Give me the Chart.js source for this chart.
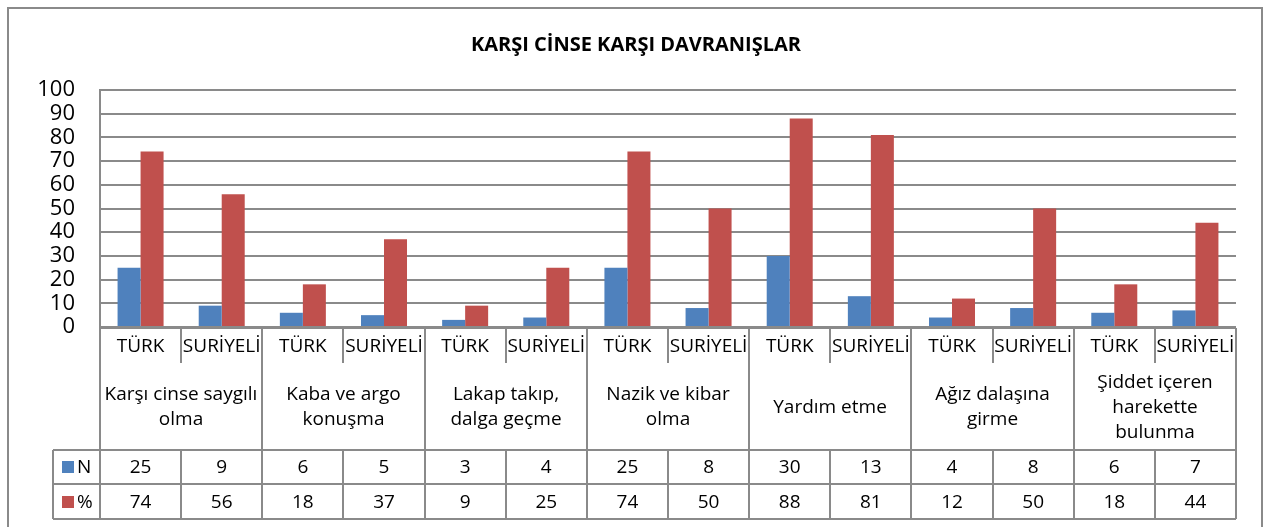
<!DOCTYPE html>
<html lang="tr">
<head>
<meta charset="utf-8">
<title>Karşı cinse karşı davranışlar</title>
<script src="https://cdn.jsdelivr.net/npm/chart.js@4.4.1/dist/chart.umd.min.js"></script>
<style>
  html, body { margin: 0; padding: 0; background: #fff; }
  #wrap { position: relative; width: 1268px; height: 527px; }
</style>
</head>
<body>
<div id="wrap"><canvas id="myChart" width="1268" height="527"></canvas></div>
<script>
// Veriler
const chartTitle = "KARŞI CİNSE KARŞI DAVRANIŞLAR";
const groupLabels = [
    ["Karşı cinse saygılı", "olma"],
    ["Kaba ve argo", "konuşma"],
    ["Lakap takıp,", "dalga geçme"],
    ["Nazik ve kibar", "olma"],
    ["Yardım etme"],
    ["Ağız dalaşına", "girme"],
    ["Şiddet içeren", "harekette", "bulunma"]
];
const subLabels = ["TÜRK", "SURİYELİ"];
const nValues = [25, 9, 6, 5, 3, 4, 25, 8, 30, 13, 4, 8, 6, 7];
const pctValues = [74, 56, 18, 37, 9, 25, 74, 50, 88, 81, 12, 50, 18, 44];
const seriesNames = ["N", "%"];
const seriesColors = ["#4F81BD", "#C0504D"];
const yMin = 0, yMax = 100, yStep = 10;

const categories = [];
groupLabels.forEach(g => subLabels.forEach(s => categories.push(s)));

const LINE = "#8a8a8a";
const FONT = "'Open Sans', 'DejaVu Sans', sans-serif";

// Başlık, çerçeve ve alttaki veri tablosu
const tablePlugin = {
    id: "dataTable",
    afterDraw(chart) {
        const ctx = chart.ctx;
        const area = chart.chartArea;
        const xs = chart.scales.x;
        const n = chart.data.labels.length;
        const cw = (area.right - area.left) / n;
        const edge = i => i >= n ? Math.round(area.right) : Math.round(xs.getPixelForValue(i) - cw / 2);
        const right = Math.round(area.right);
        const bottom = Math.round(area.bottom);

        const row1Top = bottom + 1;
        const row1Bot = bottom + 36;
        const nTop = bottom + 123;
        const pTop = bottom + 157;
        const tblBot = bottom + 192;
        const legLeft = 53;

        ctx.save();

        // dış çerçeve
        ctx.strokeStyle = LINE;
        ctx.lineWidth = 2;
        ctx.strokeRect(8, 8, 1254, 600);

        // başlık
        ctx.fillStyle = "#000";
        ctx.font = "bold 20px " + FONT;
        ctx.textAlign = "center";
        ctx.textBaseline = "middle";
        ctx.fillText(chartTitle, 636, 45);

        // tablo çizgileri
        ctx.beginPath();
        ctx.moveTo(edge(0), row1Top); ctx.lineTo(right, row1Top);
        ctx.moveTo(legLeft, nTop); ctx.lineTo(right, nTop);
        ctx.moveTo(legLeft, pTop); ctx.lineTo(right, pTop);
        ctx.moveTo(legLeft, tblBot); ctx.lineTo(right, tblBot);
        ctx.moveTo(legLeft, nTop); ctx.lineTo(legLeft, tblBot);
        for (let i = 0; i <= n; i++) {
            const x = edge(i);
            if (i % 2 === 0) {
                ctx.moveTo(x, row1Top); ctx.lineTo(x, tblBot);
            } else {
                ctx.moveTo(x, row1Top); ctx.lineTo(x, row1Bot);
                ctx.moveTo(x, nTop); ctx.lineTo(x, tblBot);
            }
        }
        ctx.stroke();

        // kategori etiketleri ve değerler
        ctx.fillStyle = "#000";
        ctx.font = "19px " + FONT;
        categories.forEach((c, i) => {
            const cx = xs.getPixelForValue(i);
            ctx.fillText(c, cx, (row1Top + row1Bot) / 2 + 1);
            ctx.fillText(String(nValues[i]), cx, (nTop + pTop) / 2 + 1);
            ctx.fillText(String(pctValues[i]), cx, (pTop + tblBot) / 2 + 1);
        });

        // grup etiketleri
        const lineH = 25;
        const midY = (row1Bot + nTop) / 2 + 1;
        groupLabels.forEach((g, gi) => {
            const gx = (edge(gi * 2) + edge(gi * 2 + 2)) / 2;
            g.forEach((line, li) => {
                ctx.fillText(line, gx, midY + (li - (g.length - 1) / 2) * lineH);
            });
        });

        // lejant
        const legRows = [(nTop + pTop) / 2, (pTop + tblBot) / 2];
        chart.data.datasets.forEach((ds, di) => {
            const cy = legRows[di];
            ctx.fillStyle = ds.backgroundColor;
            ctx.fillRect(62, Math.round(cy - 6), 12, 12);
            ctx.fillStyle = "#000";
            ctx.textAlign = "left";
            ctx.fillText(ds.label, 77, cy + 1);
        });

        ctx.restore();
    }
};

const ctx = document.getElementById("myChart").getContext("2d");
const myChart = new Chart(ctx, {
    type: "bar",
    data: {
        labels: categories,
        datasets: [
            { label: seriesNames[0], data: nValues, backgroundColor: seriesColors[0] },
            { label: seriesNames[1], data: pctValues, backgroundColor: seriesColors[1] }
        ]
    },
    options: {
        responsive: false,
        animation: false,
        devicePixelRatio: 1,
        layout: { padding: { left: 0, right: 32, top: 90, bottom: 200 } },
        datasets: { bar: { categoryPercentage: 0.567, barPercentage: 1.0 } },
        plugins: {
            legend: { display: false },
            title: { display: false },
            tooltip: { enabled: false }
        },
        scales: {
            x: { display: false },
            y: {
                min: yMin,
                max: yMax,
                afterFit(scale) { scale.width = 100; },
                border: { display: true, color: LINE, width: 2 },
                grid: { color: LINE, lineWidth: 2, drawTicks: false },
                ticks: {
                    stepSize: yStep,
                    autoSkip: false,
                    padding: 25,
                    color: "#000",
                    font: { family: FONT, size: 22 }
                }
            }
        }
    },
    plugins: [tablePlugin]
});
</script>
</body>
</html>
